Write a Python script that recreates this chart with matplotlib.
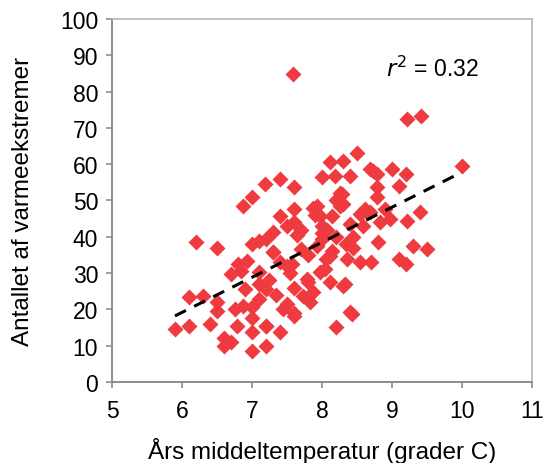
import numpy as np
import matplotlib.pyplot as plt

plt.rcParams['font.family'] = ['Liberation Sans', 'DejaVu Sans']

# Årsmiddeltemperatur (grader C) og antal varmeekstremer
temp = [5.9, 6.1, 6.4, 6.78, 7.0, 7.2, 7.4, 7.0, 7.2, 6.6, 6.7, 6.6,
        6.1, 6.3, 6.5, 6.5, 6.76, 6.87, 7.0, 6.2, 6.5, 6.7, 6.8, 6.93,
        6.9, 7.0, 7.1, 7.3, 7.4, 7.5, 7.2, 7.1, 7.54, 7.6, 7.5, 7.6,
        7.7, 7.8, 7.87, 6.87, 7.0, 7.19, 7.4, 7.6, 7.4, 7.6, 7.6, 7.7,
        7.87, 7.93, 7.59, 9.21, 9.41, 10.0, 8.5, 8.3, 8.11, 8.0, 8.19,
        8.4, 8.69, 8.79, 9.0, 9.2, 9.1, 8.29, 8.3, 7.5, 7.93, 7.97,
        8.0, 8.14, 8.54, 8.59, 8.0, 7.2, 7.3, 7.3, 7.57, 7.79, 7.97,
        7.73, 7.6, 7.44, 7.2, 8.11, 8.33, 8.43, 8.2, 8.06, 8.36, 8.54,
        7.1, 7.1, 8.73, 8.79, 8.79, 8.61, 8.69, 8.9, 8.97, 9.21, 9.4,
        8.8, 9.3, 9.5, 9.1, 9.2, 8.7, 8.4, 7.83, 8.64, 8.83, 8.26,
        8.26, 8.4, 8.3, 8.44, 8.11, 8.07, 7.9, 8.0, 8.2, 7.65, 7.8,
        8.15, 8.05, 8.35, 6.85, 7.25, 7.35, 7.0, 8.45, 8.2]
antal = [14.6, 15.4, 16.0, 15.4, 13.8, 15.4, 13.8, 8.5, 10.0, 12.0, 11.0, 10.0,
         23.4, 23.7, 22.0, 19.6, 20.0, 21.0, 20.6, 38.6, 37.0, 29.7, 32.5, 33.3,
         25.6, 38.0, 38.8, 35.8, 33.0, 32.0, 25.6, 27.0, 30.0, 26.0, 21.5, 19.0,
         36.6, 27.5, 24.8, 48.5, 51.0, 54.5, 55.9, 53.7, 45.7, 47.6, 44.0, 42.0,
         48.0, 37.5, 84.8, 72.5, 73.3, 59.6, 63.2, 61.0, 60.6, 56.6, 56.7,
         56.8, 58.7, 57.3, 58.8, 57.3, 54.0, 51.8, 49.0, 43.0, 48.5, 45.7,
         43.0, 45.7, 46.3, 43.0, 39.4, 39.4, 41.3, 35.8, 32.5, 28.4, 30.3,
         23.7, 18.2, 20.0, 15.4, 27.5, 27.0, 18.7, 15.2, 33.9, 33.9, 33.0,
         22.9, 30.3, 58.0, 53.7, 51.0, 47.7, 46.8, 47.7, 45.0, 44.4, 46.8,
         38.6, 37.5, 36.5, 33.9, 32.5, 33.0, 19.3, 22.0, 46.8, 44.0, 48.5,
         52.0, 43.5, 26.4, 37.0, 34.7, 42.0, 46.0, 41.0, 40.0, 40.5, 35.0,
         36.0, 31.0, 38.0, 30.5, 28.0, 24.0, 17.5, 40.0, 50.0]

# tendenslinje (aflæst)
trend_x = [5.9, 10.0]
trend_y = [18.2, 57.8]

fig = plt.figure(figsize=(5.45, 4.64), dpi=100)
ax = fig.add_axes([0.2055, 0.1746, 0.7705, 0.7823])

ax.plot(temp, antal, 'D', color='#ef3b3f', ms=7.8, mec='none', zorder=2)
ax.plot(trend_x, trend_y, '--', color='black', lw=2.2, dashes=(4, 3), zorder=3)

ax.set_xlim(5, 11)
ax.set_ylim(0, 100)
ax.set_xticks(range(5, 12))
ax.set_yticks(range(0, 101, 10))
ax.tick_params(direction='out', length=4, width=1.2, color='#8c8c8c',
               labelsize=16.5)
ax.tick_params(axis='x', pad=8)
ax.tick_params(axis='y', pad=6)
for side in ['left', 'bottom']:
    ax.spines[side].set_color('#8c8c8c')
    ax.spines[side].set_linewidth(1.4)
for side in ['top', 'right']:
    ax.spines[side].set_color('#b5b5b5')
    ax.spines[side].set_linewidth(1.2)

ax.set_xlabel('Års middeltemperatur (grader C)', fontsize=17.5)
ax.set_ylabel('Antallet af varmeekstremer', fontsize=17.5)
ax.xaxis.set_label_coords(0.5, -0.152)
ax.yaxis.set_label_coords(-0.186, 0.5)
ax.text(9.57, 86.5, r'$r^2$ = 0.32', fontsize=16.5, ha='center', va='center')

fig.savefig('out.png', dpi=100)
